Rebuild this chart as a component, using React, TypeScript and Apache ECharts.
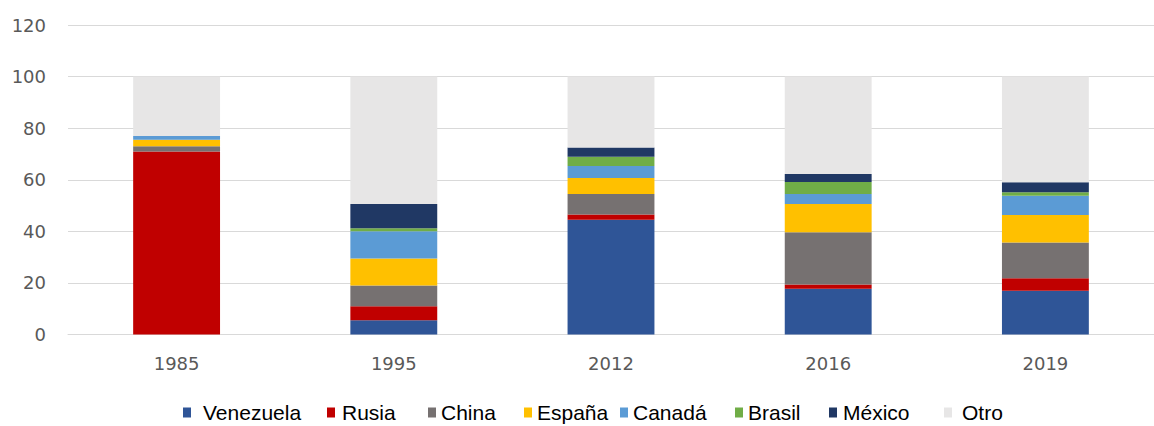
import React, { useEffect, useRef } from "react";
import * as echarts from "echarts";

const categories = ["1985", "1995", "2012", "2016", "2019"];
const seriesNames = ["Venezuela", "Rusia", "China", "España", "Canadá", "Brasil", "México", "Otro"];
const venezuela = [0, 5.5, 44.5, 17.7, 17];
const rusia = [71, 5.5, 2, 1.7, 4.8];
const china = [2, 8, 8, 20.2, 13.9];
const espana = [2.5, 10.5, 6.2, 11, 10.6];
const canada = [1.5, 10.5, 4.6, 3.9, 7.5];
const brasil = [0, 1.2, 3.6, 4.6, 1.4];
const mexico = [0, 9.4, 3.6, 3.1, 3.8];
const otro = [23, 49.4, 27.5, 37.8, 41];
const yTicks = { min: 0, max: 120, interval: 20 };

const colors = ["#2F5597", "#C00000", "#767171", "#FFC000", "#5B9BD5", "#70AD47", "#203864", "#E7E6E6"];
const values = [venezuela, rusia, china, espana, canada, brasil, mexico, otro];
// legend layout: icon left x, extra text padding
const legendLeft = [183, 327, 428, 524, 620, 735, 829, 944];
const legendPad = [7, 2, 0, 0, 0, 0, 1, 5];

export default function App() {
  const ref = useRef<HTMLDivElement>(null);
  useEffect(() => {
    if (!ref.current) return;
    const chart = echarts.init(ref.current, undefined, { renderer: "svg" });
    chart.setOption({
      animation: false,
      backgroundColor: "#ffffff",
      grid: { left: 68, right: -12, top: 25, bottom: 91.5, containLabel: false },
      legend: seriesNames.map((n, i) => ({
        data: [n],
        left: legendLeft[i],
        top: 402,
        padding: 0,
        icon: "rect",
        itemWidth: 8,
        itemHeight: 10,
        selectedMode: false,
        textStyle: {
          fontFamily: "Liberation Sans",
          fontSize: 21,
          color: "#000000",
          padding: [0, 0, 0, legendPad[i]],
        },
      })),
      xAxis: {
        type: "category",
        data: categories,
        axisLine: { show: true, lineStyle: { color: "#D9D9D9", width: 1 } },
        axisTick: { show: false },
        axisLabel: { color: "#595959", fontFamily: "DejaVu Sans", fontSize: 18, margin: 20 },
      },
      yAxis: {
        type: "value",
        min: yTicks.min,
        max: yTicks.max,
        interval: yTicks.interval,
        axisLine: { show: false },
        axisTick: { show: false },
        splitLine: { lineStyle: { color: "#D9D9D9", width: 1 } },
        axisLabel: { color: "#595959", fontFamily: "DejaVu Sans", fontSize: 18, margin: 22 },
      },
      series: seriesNames.map((n, i) => ({
        name: n,
        type: "bar",
        stack: "total",
        barWidth: "40%",
        data: values[i],
        itemStyle: { color: colors[i] },
      })),
    });
    return () => chart.dispose();
  }, []);
  return (
    <div
      ref={ref}
      style={{ position: "absolute", left: 0, top: 0, width: 1154, height: 426 }}
    />
  );
}
